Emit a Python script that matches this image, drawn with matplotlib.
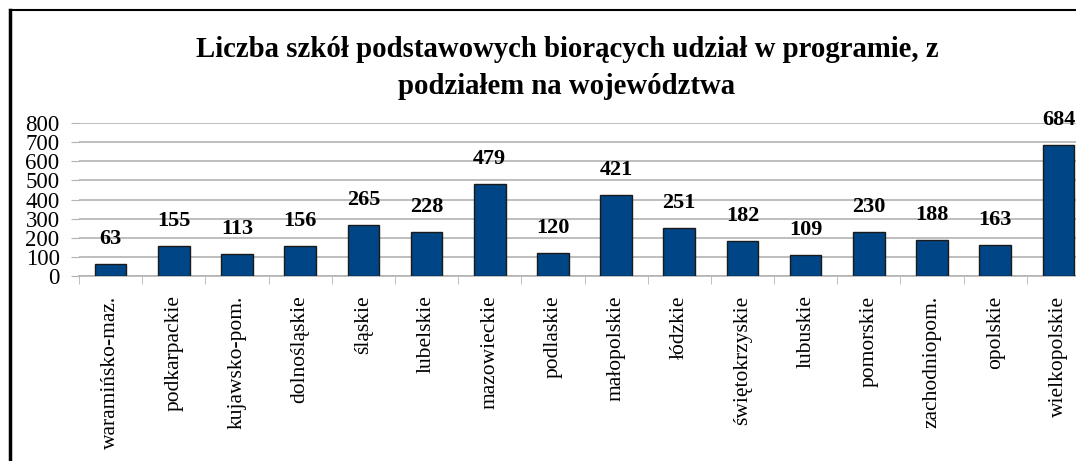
import matplotlib.pyplot as plt
from matplotlib.lines import Line2D
import numpy as np

wojewodztwa = ["waramińsko-maz.", "podkarpackie", "kujawsko-pom.", "dolnośląskie",
               "śląskie", "lubelskie", "mazowieckie", "podlaskie", "małopolskie",
               "łódzkie", "świętokrzyskie", "lubuskie", "pomorskie", "zachodniopom.",
               "opolskie", "wielkopolskie"]
szkoly = [63, 155, 113, 156, 265, 228, 479, 120, 421, 251, 182, 109, 230, 188, 163, 684]
y_ticks = [0, 100, 200, 300, 400, 500, 600, 700, 800]

plt.rcParams['font.family'] = ['Liberation Serif', 'DejaVu Serif']

W, H = 1076, 461
fig = plt.figure(figsize=(W / 100, H / 100), dpi=100)

# plot area runs past the right edge (the original is cropped)
ax = fig.add_axes([79 / W, (H - 276) / H, (1090 - 79) / W, (276 - 123) / H])
x = np.arange(len(szkoly))
ax.bar(x, szkoly, width=0.5, color='#004586', edgecolor='#1a1a1a', linewidth=1, zorder=3)

for xi, v in zip(x, szkoly):
    ax.annotate(str(v), (xi, v), xytext=(0, 11), textcoords='offset points',
                ha='center', va='bottom', fontsize=16, fontweight='bold')

ax.set_xlim(-0.5, len(szkoly) - 0.5)
ax.set_ylim(0, 800)
ax.set_yticks(y_ticks)
ax.tick_params(axis='y', labelsize=16.5, length=6, color='#b3b3b3', pad=8)
ax.yaxis.grid(True, color='#b3b3b3', linewidth=1.2, zorder=0)

ax.set_xticks(x)
ax.set_xticklabels(wojewodztwa, rotation=90, fontsize=15.5, va='top', ha='center')
ax.tick_params(axis='x', length=0, pad=14)
ax.set_xticks(np.arange(len(szkoly) + 1) - 0.5, minor=True)
ax.tick_params(axis='x', which='minor', length=6, color='#b3b3b3')

for s in ['top', 'right', 'left']:
    ax.spines[s].set_visible(False)
ax.spines['bottom'].set_color('#b3b3b3')
ax.spines['bottom'].set_linewidth(1.2)

fig.text(567 / W, 1 - 68 / H,
         "Liczba szkół podstawowych biorących udział w programie, z\npodziałem na województwa",
         ha='center', va='center', fontsize=20.7, fontweight='bold', linespacing=1.5)

# frame of the original chart (cropped at right and bottom)
fig.add_artist(Line2D([9.5 / W, 9.5 / W], [0, 1 - 10.5 / H], color='black', linewidth=2.5,
                      transform=fig.transFigure))
fig.add_artist(Line2D([9.5 / W, 1], [1 - 10.5 / H, 1 - 10.5 / H], color='black', linewidth=1.5,
                      transform=fig.transFigure))

fig.savefig('out.png', dpi=100)
